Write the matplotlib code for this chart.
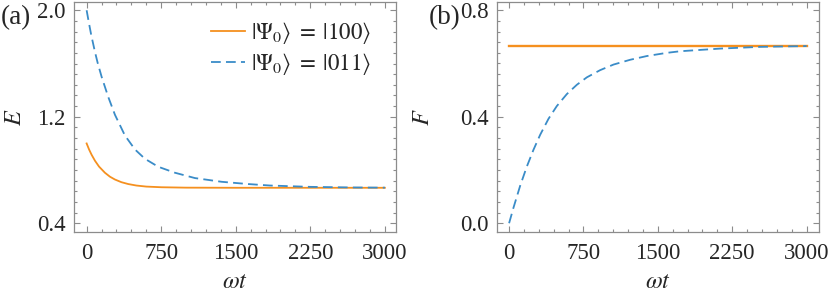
import matplotlib
matplotlib.use("Agg")
import matplotlib.pyplot as plt
from matplotlib.ticker import MultipleLocator

plt.rcParams['font.family'] = ['Liberation Serif', 'DejaVu Serif']
plt.rcParams['mathtext.fontset'] = 'stix'

# ---- data ----
t_E100 = [0, 25, 50, 84, 125, 184, 235, 285, 350, 419, 500, 600, 754, 1000, 1500, 2000, 2500, 3000]
E_100 = [1.000, 0.954, 0.915, 0.870, 0.826, 0.780, 0.750, 0.729, 0.709, 0.695, 0.684, 0.676,
         0.671, 0.668, 0.667, 0.667, 0.667, 0.667]

t_E011 = [0, 23, 46, 83, 111, 151, 217, 285, 385, 486, 586, 720, 888, 1089, 1358, 1626,
          1843, 2246, 2649, 3000]
E_011 = [2.000, 1.905, 1.815, 1.690, 1.605, 1.500, 1.350, 1.215, 1.060, 0.955, 0.885, 0.825,
         0.780, 0.740, 0.712, 0.695, 0.684, 0.674, 0.6695, 0.668]

t_F100 = [0, 3000]
F_100 = [0.667, 0.667]

t_F011 = [0, 44, 111, 178, 246, 313, 397, 481, 582, 683, 784, 918, 1053, 1221, 1389, 1591,
          1725, 2129, 2533, 2936, 3000]
F_011 = [0.000, 0.058, 0.140, 0.212, 0.276, 0.332, 0.392, 0.440, 0.485, 0.520, 0.548, 0.575,
         0.596, 0.614, 0.628, 0.640, 0.646, 0.656, 0.6625, 0.665, 0.6655]

x_ticks = [0, 750, 1500, 2250, 3000]
E_ticks = [0.4, 1.2, 2.0]
F_ticks = [0.0, 0.4, 0.8]
labels = [r'$|\Psi_0\rangle\;=\;|100\rangle$', r'$|\Psi_0\rangle\;=\;|011\rangle$']

c_orange = '#f5901f'
c_blue = '#3a8cc8'
frame_c = '#8c8c8c'
text_c = '#262626'
fs = 16.5

fig = plt.figure(figsize=(8.3, 2.92), dpi=100)
ax1 = fig.add_axes([74/830, 60/292, 322/830, 230/292])
ax2 = fig.add_axes([496.7/830, 60/292, 322.3/830, 230/292])

lw = 1.3
dash = (0, (5.4, 2.9))
ax1.plot(t_E100, E_100, color=c_orange, lw=lw, label=labels[0])
ax1.plot(t_E011, E_011, color=c_blue, lw=lw, ls=dash, label=labels[1])
ax2.plot(t_F100, F_100, color=c_orange, lw=lw * 1.3)
ax2.plot(t_F011, F_011, color=c_blue, lw=lw, ls=dash)

ax1.set_xlim(-127, 3112)
ax2.set_xlim(-125, 3125)
ax1.set_ylim(0.335, 2.062)
ax2.set_ylim(-0.033, 0.831)

for ax, yt, ymin in [(ax1, E_ticks, 0.08), (ax2, F_ticks, 0.04)]:
    ax.set_xticks(x_ticks)
    ax.set_xticklabels([str(v) for v in x_ticks])
    ax.set_yticks(yt)
    ax.set_yticklabels([f'{v:.1f}' for v in yt])
    ax.xaxis.set_minor_locator(MultipleLocator(150))
    ax.yaxis.set_minor_locator(MultipleLocator(ymin))
    ax.tick_params(which='both', direction='in', top=True, right=True, color=frame_c,
                   width=0.8, labelsize=fs, labelcolor=text_c)
    ax.tick_params(which='major', length=4.0)
    ax.tick_params(which='minor', length=2.3)
    ax.tick_params(axis='x', which='major', pad=8)
    ax.tick_params(axis='y', which='major', pad=6)
    for s in ax.spines.values():
        s.set_color(frame_c)
        s.set_linewidth(0.9)
    ax.set_xlabel(r'$\omega t$', fontsize=fs + 1, color=text_c)

ax1.xaxis.set_label_coords(0.5, -0.175)
ax2.xaxis.set_label_coords(0.5, -0.175)
ax1.set_ylabel(r'$E$', fontsize=fs + 1, color=text_c)
ax2.set_ylabel(r'$F$', fontsize=fs + 1, color=text_c)
ax1.yaxis.set_label_coords(-0.15, 0.5)
ax2.yaxis.set_label_coords(-0.195, 0.5)

leg = ax1.legend(loc='upper left', bbox_to_anchor=((211 - 74) / 322, (232 - 20) / 230),
                 frameon=False, fontsize=fs, handlelength=1.5, handletextpad=0.25,
                 labelspacing=0.2, borderpad=0, borderaxespad=0)
for txt in leg.get_texts():
    txt.set_color(text_c)

fig.text(1/830, 1 - 18/292, '(a)', fontsize=fs + 3, color=text_c, ha='left', va='center')
fig.text(429/830, 1 - 18/292, '(b)', fontsize=fs + 3, color=text_c, ha='left', va='center')

fig.savefig('out.png', dpi=100)
